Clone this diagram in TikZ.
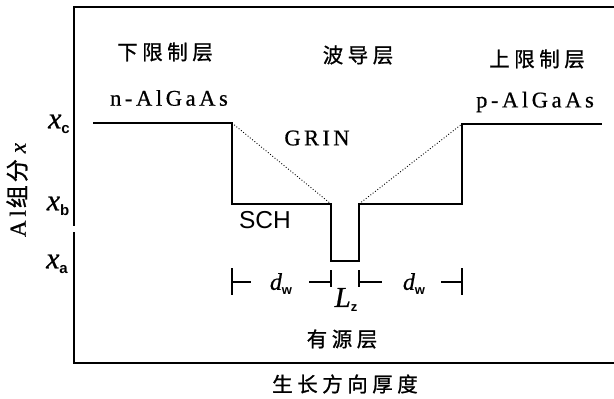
\documentclass[tikz,border=0pt]{standalone}
\usepackage{fontspec}
\setmainfont{Liberation Serif}[FakeBold=0.6]
\setsansfont{Liberation Sans}
\newfontfamily\cjkfont{Noto Sans CJK SC}[LetterSpace=22,FakeBold=1]
\newfontfamily\cjkplain{Noto Sans CJK SC}[FakeBold=1]
\newfontfamily\latspaced{Liberation Serif}[LetterSpace=16,FakeBold=0.6]
\newfontfamily\grinfont{Liberation Serif}[LetterSpace=15,FakeBold=0.8]
\newcommand{\vx}[3]{{\itshape #1}\raisebox{-5pt}{\fontsize{#3}{#3}\selectfont\sffamily\bfseries #2}}
\begin{document}
\begin{tikzpicture}[x=1pt,y=-1pt,
  prof/.style={line width=1.6pt},
  axisline/.style={line width=1.6pt},
  grad/.style={dotted, line width=0.9pt},
  dimline/.style={line width=1.3pt},
  cn/.style={font=\fontsize{20.5}{21}\cjkfont, inner sep=0},
  lat/.style={font=\fontsize{22.5}{23}\latspaced, inner sep=0},
  sans/.style={font=\fontsize{24.5}{25}\sffamily, inner sep=0},
  mth/.style={font=\fontsize{24}{24}\selectfont, inner sep=0},
  ytick/.style={font=\fontsize{30}{30}\selectfont, inner sep=0}]
\useasboundingbox (0,0) rectangle (614,399);
% frame
\coordinate (ftr) at (614,7);
\coordinate (ft) at (74,7);
\coordinate (gapT) at (74,226);
\coordinate (gapB) at (74,232);
\coordinate (fb) at (74,363);
\coordinate (fbr) at (614,363);
\draw[axisline] (ftr) -- (ft) -- (gapT);
\draw[axisline] (gapB) -- (fb) -- (fbr);
% profile
\coordinate (p1) at (93,123);
\coordinate (p2) at (232,123);
\coordinate (p3) at (232,204);
\coordinate (p4) at (331,204);
\coordinate (p5) at (331,261);
\coordinate (p6) at (359,261);
\coordinate (p7) at (359,204);
\coordinate (p8) at (462,204);
\coordinate (p9) at (462,124);
\coordinate (p10) at (602,124);
\draw[prof] (p1) -- (p2) -- (p3) -- (p4) -- (p5) -- (p6) -- (p7) -- (p8) -- (p9) -- (p10);
\draw[grad] (p2) -- (p4);
\draw[grad] (p7) -- (p9);
% dimension markers
\coordinate (lb1) at (232,268); \coordinate (lb2) at (232,295);
\coordinate (l1a) at (232,282); \coordinate (l1b) at (251,282);
\coordinate (l2a) at (309,282); \coordinate (l2b) at (331,282);
\coordinate (lt1) at (331,270); \coordinate (lt2) at (331,287);
\coordinate (rt1) at (359,270); \coordinate (rt2) at (359,287);
\coordinate (r1a) at (359,282); \coordinate (r1b) at (382,282);
\coordinate (r2a) at (441,282); \coordinate (r2b) at (462,282);
\coordinate (rb1) at (462,268); \coordinate (rb2) at (462,295);
\draw[dimline] (lb1) -- (lb2);
\draw[dimline] (l1a) -- (l1b);
\draw[dimline] (l2a) -- (l2b);
\draw[dimline] (lt1) -- (lt2);
\draw[dimline] (rt1) -- (rt2);
\draw[dimline] (r1a) -- (r1b);
\draw[dimline] (r2a) -- (r2b);
\draw[dimline] (rb1) -- (rb2);
\node[mth] (dwl) at (281,284) {\vx{d}{w}{13}};
\node[mth] (dwr) at (414,284) {\vx{d}{w}{13}};
\node[mth, font=\fontsize{29}{29}\selectfont] (lz) at (346,300) {\vx{L}{z}{13}};
% texts
\node[cn] (t1) at (165,52) {下限制层};
\node[lat] (t2) at (169,98) {n-AlGaAs};
\node[cn] (t3) at (358,55) {波导层};
\node[cn] (t4) at (537,59) {上限制层};
\node[lat] (t5) at (535,102) {p-AlGaAs};
\node[inner sep=0, font=\fontsize{22.5}{23}\grinfont] (grin) at (317,138) {GRIN};
\node[sans] (sch) at (265,220) {SCH};
\node[cn] (t6) at (342,339) {有源层};
\node[cn] (t7) at (345,384) {生长方向厚度};
% y ticks
\node[ytick] (xc) at (59,124) {\vx{x}{c}{15}};
\node[ytick] (xb) at (58,206) {\vx{x}{b}{15}};
\node[ytick] (xa) at (57,264) {\vx{x}{a}{15}};
% y label
\node[rotate=90, inner sep=0, font=\fontsize{23}{23}\selectfont] (ylab) at (17,190) {A\,l\hspace{2pt}{\cjkplain 组\hspace{3pt}分}\hspace{6pt}\textit{x}};
\end{tikzpicture}
\end{document}
